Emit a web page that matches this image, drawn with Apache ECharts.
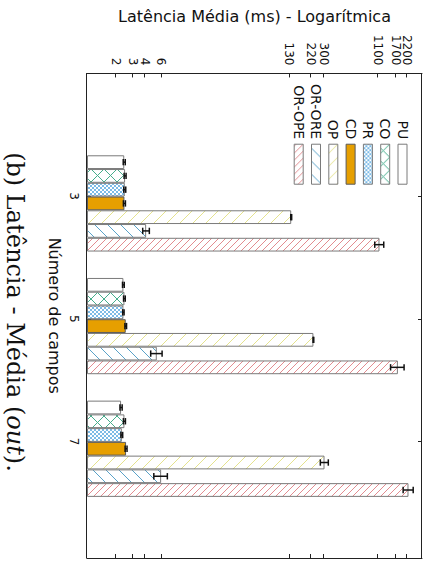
<!DOCTYPE html>
<html>
<head>
<meta charset="utf-8">
<script src="https://cdn.jsdelivr.net/npm/echarts@6/dist/echarts.min.js"></script>
<style>
  html, body { margin: 0; padding: 0; width: 429px; height: 565px; overflow: hidden; background: #ffffff; }
  /* the figure is laid out landscape and turned a quarter turn clockwise */
  #chart { position: absolute; left: 0; top: 0; width: 565px; height: 429px;
           transform-origin: 0 0; transform: translate(429px, 0) rotate(90deg); }
</style>
</head>
<body>
<div id="chart"></div>
<script>
// ---- data ----
const campos = [3, 5, 7];
const nomes = ['PU', 'CO', 'PR', 'CD', 'OP', 'OR-ORE', 'OR-OPE'];

const latPU    = [2.45, 2.40, 2.27];
const latCO    = [2.50, 2.46, 2.46];
const latPR    = [2.48, 2.40, 2.31];
const latCD    = [2.46, 2.54, 2.56];
const latOP    = [136, 232, 303];
const latORORE = [4.15, 5.36, 5.95];
const latOROPE = [1137, 1770, 2284];

const errPU    = [0.06, 0.05, 0.06];
const errCO    = [0.06, 0.05, 0.06];
const errPR    = [0.06, 0.04, 0.05];
const errCD    = [0.06, 0.05, 0.06];
const errOP    = [1.5, 2, 29];
const errORORE = [0.33, 0.73, 0.96];
const errOROPE = [123, 285, 275];

const yTickValues = [2, 3, 4, 6, 130, 220, 300, 1100, 1700, 2200];
const xTickValues = [3, 5, 7];

// ---- styling ----
const BAR_W = 13.75;          // px per bar
const GROUP_OFFSET = 0.119;   // bars sit slightly after the tick of their group
const X_MIN = 1, X_MAX = 8.9;
const Y_MIN = 1, Y_MAX = 3162.28;

function hatch(kind, color, period) {
  const c = document.createElement('canvas');
  c.width = period; c.height = period;
  const g = c.getContext('2d');
  g.fillStyle = '#ffffff';
  g.fillRect(0, 0, period, period);
  g.strokeStyle = color;
  g.lineWidth = 1;
  g.beginPath();
  for (let k = -1; k <= 1; k++) {
    if (kind === 'back' || kind === 'cross') {
      g.moveTo(k * period, 0); g.lineTo(k * period + period, period);
    }
    if (kind === 'fwd' || kind === 'cross') {
      g.moveTo(k * period, period); g.lineTo(k * period + period, 0);
    }
  }
  g.stroke();
  return { image: c, repeat: 'repeat', imageWidth: period, imageHeight: period };
}

const looks = {
  'PU':     { fill: '#ffffff', border: '#7a7a7a' },
  'CO':     { fill: hatch('cross', '#46ad8c', 13), border: '#7a7a7a' },
  'PR':     { fill: hatch('cross', '#7cbbe6', 4), border: '#7a7a7a' },
  'CD':     { fill: '#e69f00', border: '#5a5a5a' },
  'OP':     { fill: hatch('back', '#e4e28e', 13), border: '#7a7a7a' },
  'OR-ORE': { fill: hatch('fwd', '#5aa2c8', 13), border: '#7a7a7a' },
  'OR-OPE': { fill: hatch('back', '#e28c90', 7), border: '#7a7a7a' }
};

const values = [latPU, latCO, latPR, latCD, latOP, latORORE, latOROPE];
const errors = [errPU, errCO, errPR, errCD, errOP, errORORE, errOROPE];

const barSeries = nomes.map((nome, i) => ({
  name: nome,
  type: 'bar',
  xAxisIndex: 2,
  yAxisIndex: 0,
  barWidth: BAR_W,
  barGap: '0%',
  data: campos.map((c, k) => [c, values[i][k]]),
  itemStyle: { color: looks[nome].fill, borderColor: looks[nome].border, borderWidth: 1 },
  emphasis: { disabled: true },
  z: 2
}));

function errorBarRenderer(i) {
  return function (params, api) {
    const x = api.value(0);
    const lo = api.coord([x, api.value(1)]);
    const hi = api.coord([x, api.value(2)]);
    const cx = lo[0] + (i - (nomes.length - 1) / 2) * BAR_W;
    const cap = 3.2;
    const st = { stroke: '#111', lineWidth: 1.5 };
    return {
      type: 'group',
      children: [
        { type: 'line', shape: { x1: cx, y1: lo[1], x2: cx, y2: hi[1] }, style: st },
        { type: 'line', shape: { x1: cx - cap, y1: lo[1], x2: cx + cap, y2: lo[1] }, style: st },
        { type: 'line', shape: { x1: cx - cap, y1: hi[1], x2: cx + cap, y2: hi[1] }, style: st }
      ]
    };
  };
}

const errSeries = nomes.map((nome, i) => ({
  name: 'erro ' + nome,
  type: 'custom',
  xAxisIndex: 2,
  yAxisIndex: 0,
  renderItem: errorBarRenderer(i),
  encode: { x: 0, y: [1, 2] },
  data: campos.map((c, k) => [c, values[i][k] - errors[i][k], values[i][k] + errors[i][k]]),
  silent: true,
  z: 5
}));

const axisColor = '#222222';
const frameLine = { show: true, onZero: false, lineStyle: { color: axisColor, width: 1 } };
const font = 'DejaVu Sans';
const plainNumber = v => String(Math.round(v));

// the log-axis labels crowd near the top, so they are split over two
// coincident left axes; each one keeps all of its labels visible
const labelsA = yTickValues.filter((v, i) => i % 2 === 0);
const labelsB = yTickValues.filter((v, i) => i % 2 === 1);
const yLabelStyle = { fontSize: 12, margin: 8, color: '#111', fontFamily: font, formatter: plainNumber, hideOverlap: false };

const option = {
  animation: false,
  backgroundColor: '#ffffff',
  textStyle: { fontFamily: font, color: '#111' },
  grid: { left: 73, right: 7, top: 7, bottom: 87 },
  title: {
    text: '{r|(b) Latência - Média (}{i|out}{r|).}',
    left: 312,
    top: 402,
    textAlign: 'center',
    padding: 0,
    textStyle: {
      fontWeight: 'normal',
      rich: {
        r: { fontFamily: 'DejaVu Serif', fontWeight: 'normal', fontSize: 24, color: '#111' },
        i: { fontFamily: 'DejaVu Serif', fontWeight: 'normal', fontStyle: 'italic', fontSize: 24, color: '#111' }
      }
    }
  },
  legend: {
    data: nomes,
    orient: 'vertical',
    align: 'right',
    left: 79,
    top: 14.5,
    icon: 'rect',
    itemWidth: 40,
    itemHeight: 9,
    itemGap: 3.3,
    selectedMode: false,
    itemStyle: { borderWidth: 1 },
    textStyle: { fontFamily: font, fontSize: 14, lineHeight: 14, color: '#111' }
  },
  xAxis: [
    {
      type: 'value', min: X_MIN, max: X_MAX, position: 'bottom',
      axisLine: frameLine,
      axisTick: { show: true, inside: true, length: 4, customValues: xTickValues, lineStyle: { color: axisColor } },
      axisLabel: { customValues: xTickValues, fontSize: 12, margin: 7, color: '#111', fontFamily: font, formatter: plainNumber },
      splitLine: { show: false },
      name: 'Número de campos', nameLocation: 'middle', nameGap: 25,
      nameTextStyle: { fontSize: 16, color: '#111', fontFamily: font }
    },
    {
      type: 'value', min: X_MIN, max: X_MAX, position: 'top',
      axisLine: frameLine,
      axisTick: { show: true, inside: true, length: 4, customValues: xTickValues, lineStyle: { color: axisColor } },
      axisLabel: { show: false },
      splitLine: { show: false }
    },
    { type: 'value', min: X_MIN - GROUP_OFFSET, max: X_MAX - GROUP_OFFSET, show: false, splitLine: { show: false } }
  ],
  yAxis: [
    {
      type: 'log', logBase: 10, min: Y_MIN, max: Y_MAX, position: 'left',
      axisLine: frameLine,
      axisTick: { show: true, inside: true, length: 4, customValues: yTickValues, lineStyle: { color: axisColor } },
      axisLabel: Object.assign({ customValues: labelsA }, yLabelStyle),
      minorTick: { show: false },
      splitLine: { show: false },
      name: 'Latência Média (ms) - Logarítmica', nameLocation: 'middle', nameRotate: 90, nameGap: 40,
      nameTextStyle: { fontSize: 16, color: '#111', fontFamily: font }
    },
    {
      type: 'log', logBase: 10, min: Y_MIN, max: Y_MAX, position: 'right',
      axisLine: frameLine,
      axisTick: { show: true, inside: true, length: 4, customValues: yTickValues, lineStyle: { color: axisColor } },
      axisLabel: { show: false },
      splitLine: { show: false }
    },
    {
      type: 'log', logBase: 10, min: Y_MIN, max: Y_MAX, position: 'left', offset: 0,
      axisLine: { show: false },
      axisTick: { show: false },
      axisLabel: Object.assign({ customValues: labelsB }, yLabelStyle),
      splitLine: { show: false }
    }
  ],
  series: barSeries.concat(errSeries)
};

const chart = echarts.init(document.getElementById('chart'), null, { renderer: 'svg', width: 565, height: 429 });
chart.setOption(option);
</script>
</body>
</html>
